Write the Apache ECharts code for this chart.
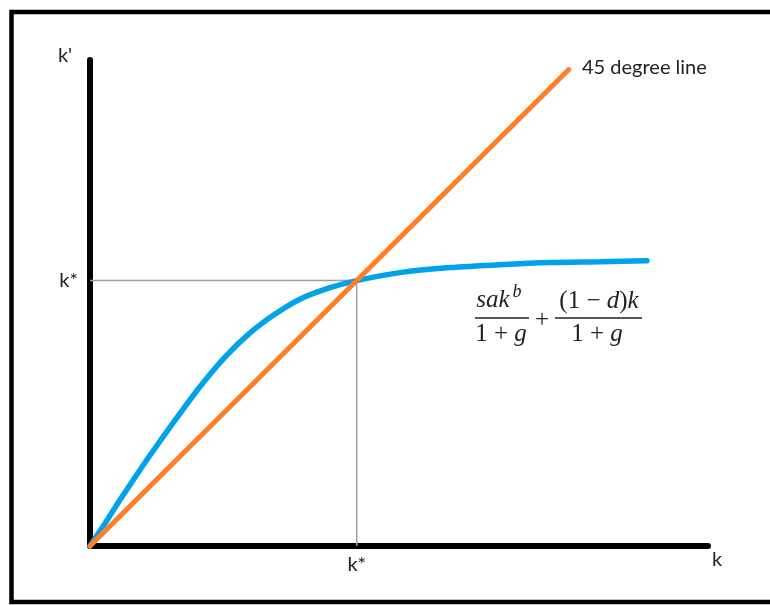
<!DOCTYPE html>
<html>
<head>
<meta charset="utf-8">
<script src="https://cdn.jsdelivr.net/npm/echarts@6/dist/echarts.min.js"></script>
<style>html,body{margin:0;padding:0;background:#fff;}#c{width:770px;height:605px;}</style>
</head>
<body>
<div id="c"></div>
<script>
// ---- data (k* normalised to 1) ----
const curveK   = [0, 0.056, 0.112, 0.169, 0.225, 0.319, 0.412, 0.506, 0.600, 0.694, 0.787, 0.900, 1.000, 1.162, 1.350, 1.537, 1.725, 1.912, 2.088];
const curveKp  = [0, 0.085, 0.173, 0.259, 0.342, 0.474, 0.600, 0.712, 0.803, 0.874, 0.930, 0.973, 1.000, 1.030, 1.049, 1.060, 1.068, 1.071, 1.075];
const lineK    = [0, 1.795];
const lineKp   = [0, 1.795];
const refK     = [0, 1, 1];
const refKp    = [1, 1, 0];
const kStar    = 1;
const tickText = 'k*';
const xMax = 2.317, yMax = 1.831;

const zip = (a, b) => a.map((v, i) => [v, b[i]]);
const FONT = 'Lato, "Open Sans", sans-serif';
const MATH = '"Liberation Serif", serif';

const chart = echarts.init(document.getElementById('c'));
chart.setOption({
  animation: false,
  backgroundColor: '#fff',
  grid: { left: 90, right: 62, top: 60, bottom: 59, containLabel: false },
  xAxis: {
    type: 'value', min: 0, max: xMax, interval: kStar,
    axisLine: { lineStyle: { color: '#000', width: 6, cap: 'round' } },
    axisTick: { show: false }, splitLine: { show: false },
    axisLabel: { margin: 9, fontSize: 20, fontFamily: FONT, color: '#222',
      showMinLabel: false, showMaxLabel: false,
      formatter: v => (Math.abs(v - kStar) < 1e-9 ? tickText : '') }
  },
  yAxis: {
    type: 'value', min: 0, max: yMax, interval: kStar,
    axisLine: { lineStyle: { color: '#000', width: 6, cap: 'round' } },
    axisTick: { show: false }, splitLine: { show: false },
    axisLabel: { margin: 12, fontSize: 20, fontFamily: FONT, color: '#222',
      showMinLabel: false, showMaxLabel: false,
      formatter: v => (Math.abs(v - kStar) < 1e-9 ? tickText : '') }
  },
  series: [
    { type: 'line', data: zip(refK, refKp), symbol: 'none', clip: false, z: 1,
      lineStyle: { color: '#a0a0a0', width: 1.5 } },
    { type: 'line', data: zip(curveK, curveKp), symbol: 'none', clip: false, z: 3,
      smooth: 0.25,
      lineStyle: { color: '#00a2e8', width: 5.5, cap: 'round' } },
    { type: 'line', data: zip(lineK, lineKp), symbol: 'none', clip: false, z: 4,
      lineStyle: { color: '#ff7f27', width: 5, cap: 'round' } }
  ],
  graphic: [
    { type: 'rect', shape: { x: 11.5, y: 12, width: 800, height: 590 },
      style: { fill: 'none', stroke: '#000', lineWidth: 4.5 }, z: 10 },
    { type: 'text', style: { text: "k'", x: 65, y: 56, align: 'center', verticalAlign: 'middle',
      font: '20px ' + FONT, fill: '#222' } },
    { type: 'text', style: { text: 'k', x: 717, y: 560, align: 'center', verticalAlign: 'middle',
      font: '20px ' + FONT, fill: '#222' } },
    { type: 'text', style: { text: '45 degree line', x: 582, y: 68, align: 'left', verticalAlign: 'middle',
      font: '20px ' + FONT, fill: '#222' } },
    // formula
    { type: 'text', style: { text: 'sak', x: 493, y: 300, align: 'center', verticalAlign: 'middle',
      font: 'italic 25px ' + MATH, fill: '#222' } },
    { type: 'text', style: { text: 'b', x: 517, y: 292, align: 'center', verticalAlign: 'middle',
      font: 'italic 18px ' + MATH, fill: '#222' } },
    { type: 'line', shape: { x1: 475, y1: 318, x2: 529, y2: 318 }, style: { stroke: '#222', lineWidth: 1.5 } },
    { type: 'text', style: { text: '1 + {i|g}', x: 501, y: 334, align: 'center', verticalAlign: 'middle',
      font: '25px ' + MATH, fill: '#222',
      rich: { i: { font: 'italic 25px ' + MATH, fill: '#222' } } } },
    { type: 'text', style: { text: '+', x: 542, y: 320, align: 'center', verticalAlign: 'middle',
      font: '25px ' + MATH, fill: '#222' } },
    { type: 'text', style: { text: '(1 \u2212 {i|d}){i|k}', x: 599, y: 301, align: 'center', verticalAlign: 'middle',
      font: '25px ' + MATH, fill: '#222',
      rich: { i: { font: 'italic 25px ' + MATH, fill: '#222' } } } },
    { type: 'line', shape: { x1: 555, y1: 318, x2: 642, y2: 318 }, style: { stroke: '#222', lineWidth: 1.5 } },
    { type: 'text', style: { text: '1 + {i|g}', x: 597, y: 334, align: 'center', verticalAlign: 'middle',
      font: '25px ' + MATH, fill: '#222',
      rich: { i: { font: 'italic 25px ' + MATH, fill: '#222' } } } }
  ]
});
</script>
</body>
</html>
